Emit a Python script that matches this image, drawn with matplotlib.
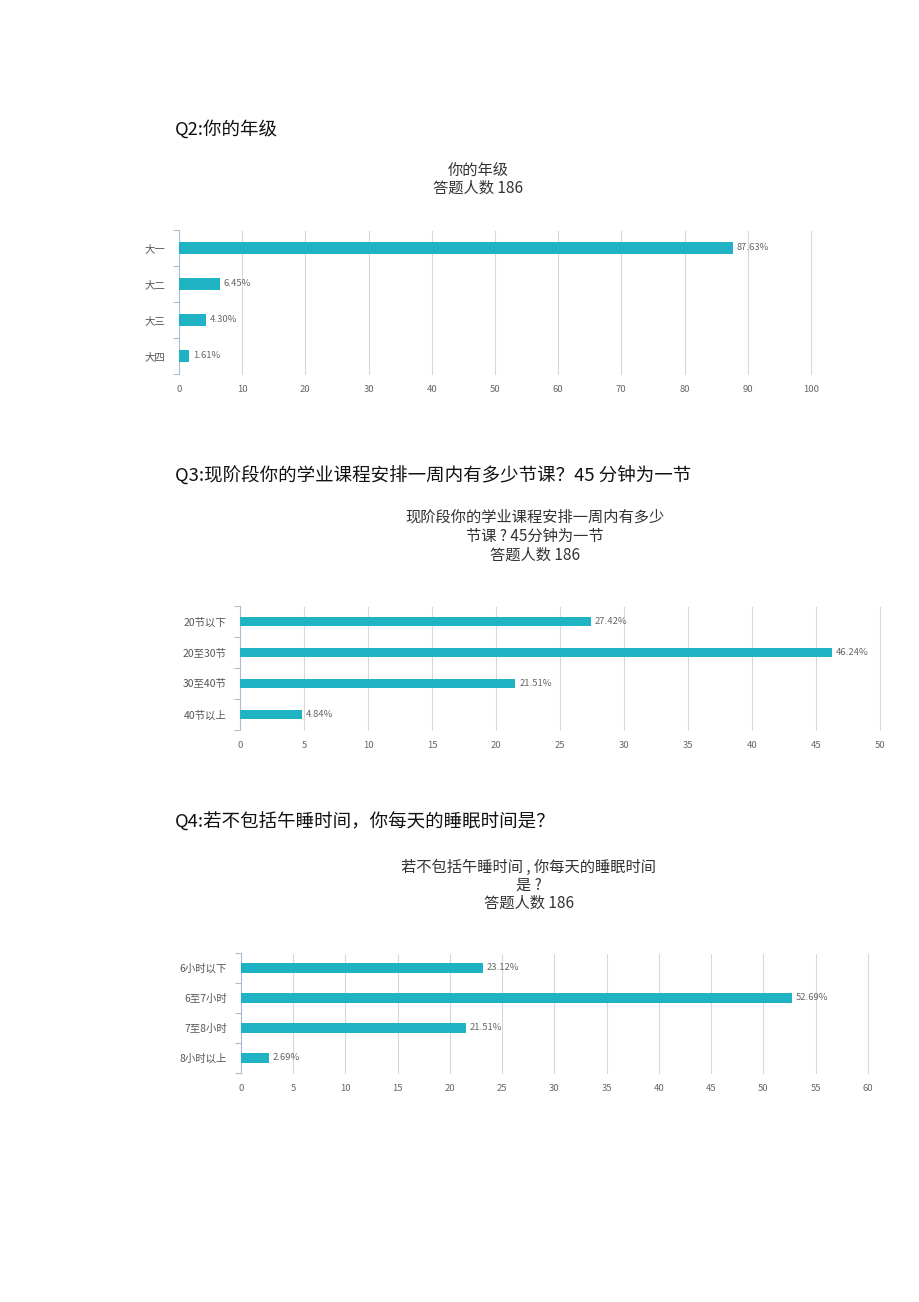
import numpy as np
import matplotlib.pyplot as plt

plt.rcParams['font.family'] = ['Noto Sans CJK SC', 'DejaVu Sans']

# 数据
grade_labels = ["大一", "大二", "大三", "大四"]
grade_values = [87.63, 6.45, 4.30, 1.61]

class_labels = ["20节以下", "20至30节", "30至40节", "40节以上"]
class_values = [27.42, 46.24, 21.51, 4.84]

sleep_labels = ["6小时以下", "6至7小时", "7至8小时", "8小时以上"]
sleep_values = [23.12, 52.69, 21.51, 2.69]

BAR = "#1fb3c3"
GRID = "#bdb3cc"
TXT = "#666666"

W, H = 920, 1302
fig = plt.figure(figsize=(W / 100, H / 100), dpi=100)


def px_axes(left, top, right, bottom):
    return fig.add_axes([left / W, 1 - bottom / H, (right - left) / W, (bottom - top) / H])


def bar_chart(ax, labels, values, xmax, step):
    y = np.arange(len(labels))
    ax.barh(y, values, height=0.32, color=BAR, zorder=3)
    for yi, v in zip(y, values):
        ax.text(v + xmax * 0.006, yi, f"{v:.2f}%", va="center", ha="left",
                fontsize=6.8, color=TXT, zorder=4)
    ax.set_xlim(0, xmax)
    ax.set_ylim(len(labels) - 0.5, -0.5)
    ax.set_xticks(np.arange(0, xmax + 0.01, step))
    ax.tick_params(axis="x", length=0, labelsize=6.8, labelcolor=TXT, pad=8)
    ax.set_yticks(y)
    ax.set_yticklabels(labels)
    ax.tick_params(axis="y", length=0, labelsize=7.5, labelcolor="#555555", pad=10)
    ax.set_yticks(np.arange(-0.5, len(labels)), minor=True)
    ax.tick_params(axis="y", which="minor", length=4, color="#a9bcd0", width=0.8)
    # 网格线（含最右一条）
    for gx in np.arange(step, xmax + 0.01, step):
        ax.axvline(gx, color=GRID, linestyle=(0, (1, 0.8)), linewidth=0.8, zorder=0, clip_on=False)
    for s in ["top", "right", "bottom"]:
        ax.spines[s].set_visible(False)
    ax.spines["left"].set_color("#a9bcd0")
    ax.spines["left"].set_linewidth(0.8)


HEAD = 13.3
TITLE = 11

# Q2
fig.text(175 / W, 1 - 129 / H, "Q2:你的年级", fontsize=HEAD, va="center", ha="left", color="#111111")
fig.text(478 / W, 1 - 170 / H, "你的年级", fontsize=TITLE, ha="center", va="center", color="#333333")
fig.text(478 / W, 1 - 188 / H, "答题人数 186", fontsize=TITLE, ha="center", va="center", color="#333333")
ax1 = px_axes(179, 230, 811, 374)
bar_chart(ax1, grade_labels, grade_values, 100, 10)

# Q3
fig.text(175 / W, 1 - 476 / H, "Q3:现阶段你的学业课程安排一周内有多少节课？45 分钟为一节",
         fontsize=HEAD, va="center", ha="left", color="#111111")
for i, line in enumerate(["现阶段你的学业课程安排一周内有多少", "节课 ? 45分钟为一节", "答题人数 186"]):
    fig.text(535 / W, 1 - (517 + 19 * i) / H, line, fontsize=TITLE, ha="center", va="center", color="#333333")
ax2 = px_axes(240, 606, 880, 730)
bar_chart(ax2, class_labels, class_values, 50, 5)

# Q4
fig.text(175 / W, 1 - 822 / H, "Q4:若不包括午睡时间，你每天的睡眠时间是？",
         fontsize=HEAD, va="center", ha="left", color="#111111")
for i, line in enumerate(["若不包括午睡时间 , 你每天的睡眠时间", "是 ?", "答题人数 186"]):
    fig.text(529 / W, 1 - (867 + 18 * i) / H, line, fontsize=TITLE, ha="center", va="center", color="#333333")
ax3 = px_axes(241, 953, 868, 1073)
bar_chart(ax3, sleep_labels, sleep_values, 60, 5)

fig.savefig("out.png", dpi=100)
